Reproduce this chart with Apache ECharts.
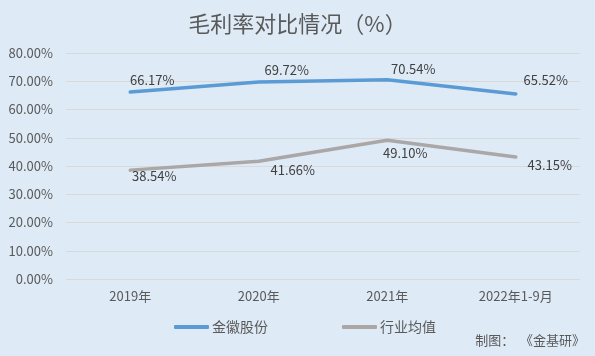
<!DOCTYPE html>
<html><head><meta charset="utf-8">
<script src="https://cdn.jsdelivr.net/npm/echarts@6/dist/echarts.min.js"></script>
<style>html,body{margin:0;padding:0;background:#DEEAF6;}#c{width:595px;height:356px;}</style>
</head><body><div id="c"></div>
<script>
const categories = ['2019年', '2020年', '2021年', '2022年1-9月'];
const jinhui = [66.17, 69.72, 70.54, 65.52];
const industry = [38.54, 41.66, 49.10, 43.15];
const seriesNames = ['金徽股份', '行业均值'];
const yTicks = { min: 0, max: 80, interval: 10 };

// label placement (style only): offset of label centre from its point, in px
const jinhuiLabelOffsets = [[22, -12], [28, -12], [26, -11], [30, -14]];
const industryLabelOffsets = [[24, 6], [34, 9], [18, 13], [34, 8]];

const FONT = '"Noto Sans CJK SC", "Noto Sans", sans-serif';
const pct = v => v.toFixed(2) + '%';
const withLabels = (vals, offs) => vals.map((v, i) => ({
  value: v,
  label: { offset: offs[i] }
}));

const chart = echarts.init(document.getElementById('c'), null, { renderer: 'canvas' });
const labelBase = {
  show: true, position: 'inside', align: 'center', verticalAlign: 'middle',
  fontSize: 13, color: '#404040', fontFamily: FONT,
  formatter: p => pct(p.value)
};
chart.setOption({
  backgroundColor: '#DEEAF6',
  animation: false,
  textStyle: { fontFamily: FONT },
  title: {
    text: '毛利率对比情况（%）',
    left: 'center', top: 8,
    textStyle: { fontSize: 22, fontWeight: 'normal', color: '#595959', fontFamily: FONT }
  },
  graphic: [{
    type: 'text', right: 10, top: 334,
    style: { text: '制图：  《金基研》', fontSize: 13, fill: '#595959', fontFamily: FONT }
  }],
  legend: {
    left: 169, top: 315,
    itemWidth: 35, itemHeight: 4, itemGap: 74,
    icon: 'roundRect',
    textStyle: { fontSize: 14, color: '#595959', fontFamily: FONT, padding: [0, 0, 0, -2] },
    data: seriesNames
  },
  grid: { left: 66, right: 15, top: 53, bottom: 77 },
  xAxis: {
    type: 'category', data: categories, boundaryGap: true,
    axisLine: { show: false }, axisTick: { show: false },
    axisLabel: { fontSize: 13, color: '#595959', margin: 11, fontFamily: FONT }
  },
  yAxis: {
    type: 'value', min: yTicks.min, max: yTicks.max, interval: yTicks.interval,
    axisLine: { show: false }, axisTick: { show: false },
    axisLabel: { fontSize: 13, color: '#595959', margin: 13, fontFamily: FONT,
      formatter: v => v.toFixed(2) + '%' },
    splitLine: { lineStyle: { color: '#D9D9D9', width: 1 } }
  },
  series: [
    {
      name: seriesNames[0], type: 'line', data: withLabels(jinhui, jinhuiLabelOffsets),
      symbol: 'circle', symbolSize: 0.1, showSymbol: true, color: '#5B9BD5',
      lineStyle: { width: 3.5, color: '#5B9BD5', cap: 'round' },
      label: labelBase
    },
    {
      name: seriesNames[1], type: 'line', data: withLabels(industry, industryLabelOffsets),
      symbol: 'circle', symbolSize: 0.1, showSymbol: true, color: '#ABA7A7',
      lineStyle: { width: 3.5, color: '#ABA7A7', cap: 'round' },
      label: labelBase
    }
  ]
});
</script></body></html>
